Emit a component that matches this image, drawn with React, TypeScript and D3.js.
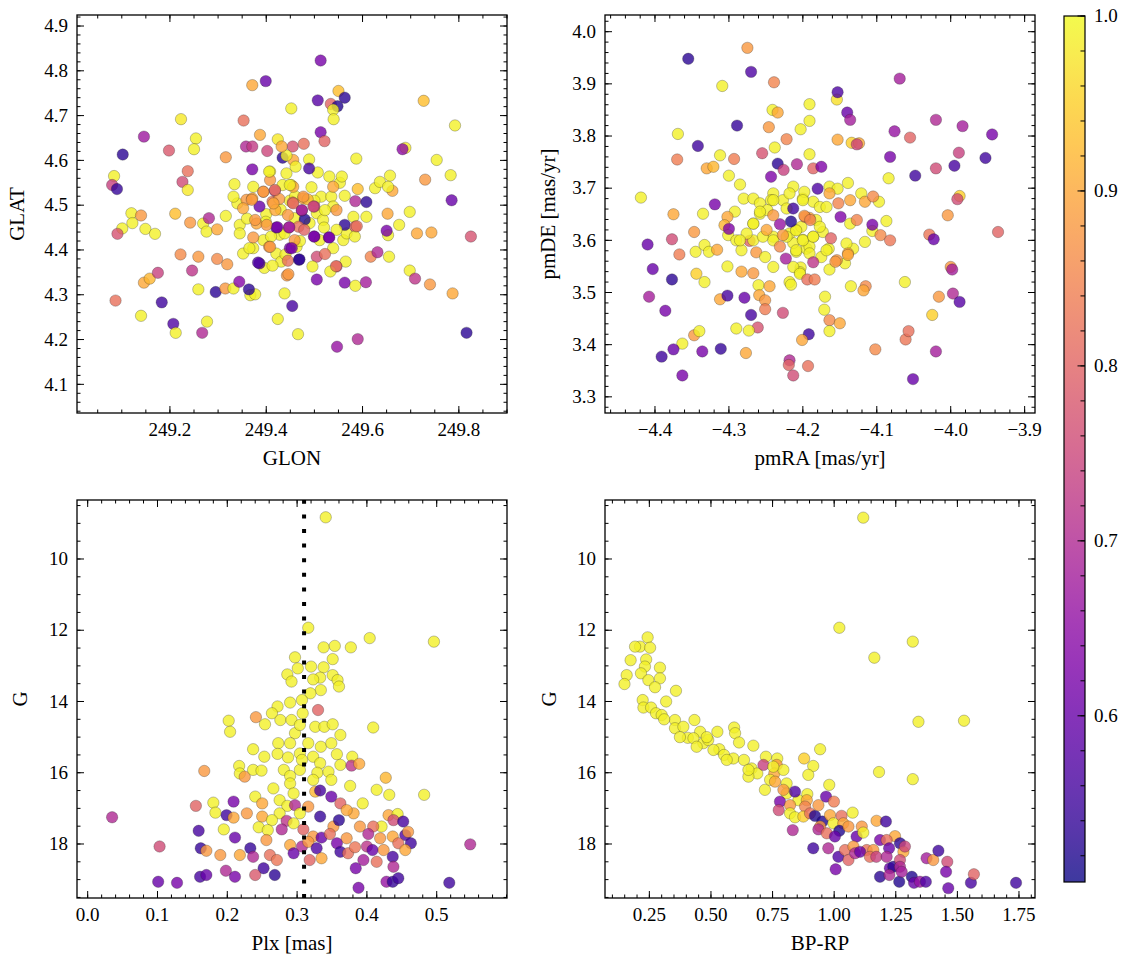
import React from 'react';
import * as d3 from 'd3';

const FONT = 'Liberation Serif';

// membership probability colour range
const P_MIN = 0.505;
const P_MAX = 1.0;
const cbarTicks = [0.6, 0.7, 0.8, 0.9, 1.0];

// [GLON, GLAT, prob]
const skyPts: [number, number, number][] = [
  [249.513,4.823,0.62],[249.399,4.777,0.60],[249.371,4.768,0.90],[249.550,4.755,0.93],[249.507,4.734,0.58],
  [249.563,4.740,0.53],[249.534,4.726,0.80],[249.548,4.721,0.52],[249.539,4.713,0.99],[249.452,4.716,0.99],
  [249.727,4.733,0.93],[249.540,4.692,0.99],[249.353,4.689,0.82],[249.223,4.692,0.98],[249.792,4.678,0.99],
  [249.146,4.653,0.67],[249.513,4.663,0.62],[249.521,4.643,0.80],[249.254,4.649,0.99],[249.387,4.657,0.90],
  [249.424,4.647,0.98],[249.102,4.613,0.53],[249.198,4.622,0.78],[249.250,4.625,0.99],[249.358,4.631,0.70],
  [249.371,4.631,0.73],[249.316,4.607,0.88],[249.402,4.621,0.75],[249.455,4.631,0.77],[249.478,4.637,0.82],
  [249.456,4.601,0.90],[249.489,4.602,0.99],[249.434,4.606,0.53],[249.587,4.604,0.99],[249.689,4.628,0.98],
  [249.683,4.625,0.65],[249.754,4.601,0.99],[249.084,4.565,0.99],[249.080,4.545,0.74],[249.090,4.536,0.54],
  [249.237,4.576,0.82],[249.226,4.552,0.76],[249.237,4.534,0.98],[249.408,4.575,0.99],[249.371,4.580,0.62],
  [249.507,4.573,0.99],[249.489,4.582,0.56],[249.657,4.566,0.99],[249.783,4.567,0.99],[249.730,4.557,0.88],
  [249.785,4.511,0.60],[249.626,4.538,0.99],[249.590,4.536,0.93],[249.662,4.532,0.90],[249.563,4.521,0.99],
  [249.585,4.509,0.70],[249.608,4.507,0.53],[249.120,4.482,0.99],[249.140,4.477,0.88],[249.122,4.460,0.99],
  [249.101,4.448,0.99],[249.091,4.436,0.77],[249.149,4.447,0.99],[249.169,4.436,0.99],[249.211,4.481,0.93],
  [249.242,4.461,0.88],[249.269,4.459,0.99],[249.276,4.441,0.99],[249.281,4.471,0.70],[249.298,4.446,0.90],
  [249.316,4.476,0.99],[249.334,4.547,0.99],[249.340,4.504,0.99],[249.345,4.456,0.99],[249.352,4.392,0.99],
  [249.345,4.437,0.99],[249.332,4.519,0.99],[249.373,4.541,0.99],[249.442,4.571,0.99],[249.461,4.586,0.99],
  [249.434,4.545,0.99],[249.452,4.545,0.99],[249.449,4.510,0.99],[249.494,4.540,0.99],[249.514,4.519,0.99],
  [249.531,4.564,0.99],[249.553,4.550,0.99],[249.557,4.564,0.99],[249.535,4.519,0.99],[249.539,4.497,0.99],
  [249.505,4.482,0.99],[249.518,4.467,0.99],[249.511,4.422,0.99],[249.539,4.404,0.99],[249.560,4.422,0.99],
  [249.567,4.437,0.99],[249.581,4.474,0.99],[249.636,4.552,0.99],[249.653,4.541,0.99],[249.394,4.422,0.99],
  [249.421,4.392,0.99],[249.463,4.407,0.99],[249.373,4.404,0.99],[249.396,4.360,0.99],[249.431,4.374,0.99],
  [249.428,4.434,0.99],[249.438,4.437,0.99],[249.459,4.471,0.99],[249.442,4.611,0.99],
  [249.430,4.490,0.99],[249.400,4.480,0.99],[249.460,4.520,0.99],[249.490,4.460,0.99],[249.520,4.450,0.99],
  [249.360,4.470,0.99],[249.410,4.430,0.99],[249.470,4.420,0.99],[249.500,4.510,0.99],[249.440,4.390,0.99],
  [249.359,4.512,0.88],[249.371,4.515,0.90],[249.394,4.530,0.88],[249.386,4.497,0.60],[249.413,4.508,0.83],
  [249.418,4.532,0.72],[249.427,4.514,0.88],[249.455,4.506,0.80],[249.477,4.515,0.90],[249.486,4.513,0.92],
  [249.500,4.497,0.74],[249.474,4.488,0.62],[249.480,4.468,0.52],[249.467,4.452,0.82],[249.445,4.478,0.88],
  [249.421,4.450,0.60],[249.447,4.450,0.68],[249.479,4.445,0.80],[249.419,4.489,0.90],[249.399,4.463,0.99],
  [249.380,4.459,0.90],[249.373,4.428,0.88],[249.365,4.404,0.99],[249.386,4.370,0.57],[249.406,4.407,0.88],
  [249.413,4.365,0.99],[249.449,4.404,0.62],[249.445,4.376,0.82],[249.468,4.378,0.55],[249.443,4.343,0.88],
  [249.438,4.303,0.99],[249.454,4.275,0.56],[249.424,4.246,0.99],[249.466,4.212,0.99],[249.500,4.430,0.62],
  [249.505,4.385,0.76],[249.496,4.363,0.99],[249.505,4.334,0.62],[249.522,4.391,0.82],[249.530,4.428,0.62],
  [249.546,4.489,0.88],[249.563,4.456,0.53],[249.546,4.445,0.99],[249.565,4.374,0.99],[249.546,4.363,0.77],
  [249.533,4.352,0.99],[249.563,4.327,0.62],[249.585,4.320,0.99],[249.607,4.328,0.68],[249.585,4.452,0.80],
  [249.584,4.430,0.99],[249.608,4.474,0.99],[249.617,4.385,0.85],[249.631,4.395,0.70],[249.653,4.433,0.99],
  [249.650,4.443,0.62],[249.652,4.481,0.90],[249.655,4.385,0.99],[249.676,4.456,0.99],[249.698,4.485,0.99],
  [249.713,4.437,0.90],[249.743,4.439,0.90],[249.698,4.354,0.99],[249.709,4.336,0.72],[249.740,4.323,0.88],
  [249.787,4.303,0.90],[249.825,4.430,0.77],[249.816,4.215,0.53],[249.590,4.201,0.70],[249.547,4.184,0.66],
  [249.087,4.287,0.82],[249.140,4.253,0.99],[249.146,4.327,0.90],[249.158,4.336,0.92],[249.175,4.349,0.74],
  [249.183,4.283,0.55],[249.207,4.235,0.57],[249.212,4.215,0.99],[249.222,4.390,0.86],[249.246,4.354,0.72],
  [249.259,4.385,0.88],[249.259,4.312,0.99],[249.267,4.215,0.70],[249.277,4.240,0.99],[249.298,4.380,0.86],
  [249.319,4.368,0.88],[249.295,4.306,0.53],[249.315,4.314,0.88],[249.332,4.314,0.99],[249.344,4.329,0.64],
  [249.367,4.299,0.99],[249.377,4.301,0.99],[249.364,4.312,0.53],[249.539,4.541,0.90],[249.408,4.556,0.88],
  [249.459,4.422,0.88],[249.456,4.541,0.90],[249.432,4.631,0.90],
  [249.406,4.575,0.99],[249.394,4.530,0.88],[249.418,4.534,0.82],[249.449,4.545,0.99],[249.477,4.519,0.88],
  [249.370,4.512,0.88],[249.352,4.493,0.90],[249.415,4.504,0.90],[249.456,4.504,0.82],[249.474,4.489,0.70],
  [249.498,4.497,0.75],[249.522,4.489,0.99],[249.377,4.467,0.88],[249.401,4.456,0.88],[249.423,4.451,0.62],
  [249.448,4.451,0.68],[249.499,4.430,0.62],[249.531,4.428,0.62],[249.588,4.453,0.82],[249.453,4.404,0.62],
  [249.408,4.407,0.88],[249.469,4.379,0.53],[249.545,4.364,0.82],[249.446,4.346,0.88],[249.383,4.372,0.57],
];

// [pmRA, pmDE, prob]
const pmPts: [number, number, number][] = [
  [-4.275,3.969,0.88],[-4.355,3.948,0.53],[-4.270,3.923,0.57],[-4.239,3.903,0.85],[-4.309,3.896,0.99],
  [-4.069,3.910,0.68],[-4.154,3.870,0.97],[-4.153,3.884,0.57],[-4.191,3.861,0.99],[-4.241,3.850,0.99],
  [-4.234,3.845,0.90],[-4.140,3.845,0.60],[-4.136,3.831,0.68],[-4.191,3.829,0.99],[-4.289,3.820,0.54],
  [-4.246,3.817,0.88],[-4.203,3.813,0.99],[-4.369,3.804,0.99],[-4.342,3.781,0.55],[-4.222,3.794,0.85],
  [-4.153,3.793,0.90],[-4.134,3.787,0.95],[-4.124,3.786,0.90],[-4.127,3.784,0.75],[-4.020,3.831,0.70],
  [-3.984,3.819,0.68],[-3.944,3.803,0.62],[-4.076,3.809,0.66],[-4.055,3.797,0.80],[-4.312,3.763,0.99],
  [-4.293,3.756,0.84],[-4.370,3.755,0.84],[-4.330,3.738,0.90],[-4.321,3.741,0.92],[-4.238,3.778,0.99],
  [-4.255,3.767,0.77],[-4.234,3.747,0.53],[-4.226,3.735,0.74],[-4.208,3.746,0.70],[-4.191,3.765,0.99],
  [-4.186,3.738,0.80],[-4.175,3.741,0.63],[-4.082,3.760,0.62],[-3.989,3.768,0.74],[-4.020,3.738,0.76],
  [-3.995,3.743,0.56],[-3.953,3.758,0.55],[-4.048,3.724,0.55],[-4.084,3.719,0.99],[-4.419,3.682,0.99],
  [-4.319,3.669,0.62],[-4.375,3.650,0.90],[-4.335,3.651,0.99],[-4.300,3.724,0.99],[-4.285,3.707,0.99],
  [-4.243,3.722,0.63],[-4.280,3.680,0.99],[-4.267,3.680,0.99],[-4.292,3.655,0.99],[-4.302,3.645,0.90],
  [-4.306,3.629,0.92],[-4.301,3.610,0.99],[-4.300,3.622,0.63],[-4.410,3.592,0.60],[-4.377,3.602,0.76],
  [-4.347,3.616,0.88],[-4.345,3.578,0.99],[-4.367,3.573,0.84],[-4.333,3.591,0.99],[-4.327,3.578,0.99],
  [-4.316,3.582,0.90],[-4.403,3.545,0.60],[-4.377,3.525,0.53],[-4.344,3.536,0.95],[-4.333,3.520,0.99],
  [-4.408,3.492,0.68],[-4.386,3.465,0.62],[-4.302,3.550,0.99],[-4.312,3.487,0.90],[-4.302,3.494,0.56],
  [-4.279,3.490,0.60],[-4.283,3.540,0.90],[-4.267,3.537,0.88],[-4.283,3.581,0.99],[-4.272,3.599,0.80],
  [-4.263,3.577,0.88],[-4.260,3.514,0.99],[-4.259,3.495,0.90],[-4.251,3.485,0.88],[-4.251,3.468,0.84],
  [-4.245,3.512,0.90],[-4.270,3.457,0.56],[-4.261,3.433,0.77],[-4.290,3.431,0.99],[-4.273,3.427,0.99],
  [-4.227,3.461,0.76],[-4.218,3.520,0.99],[-4.216,3.515,0.99],[-4.240,3.549,0.99],[-4.203,3.548,0.99],
  [-4.204,3.539,0.99],[-4.209,3.578,0.99],[-4.195,3.584,0.99],[-4.175,3.568,0.99],[-4.164,3.544,0.99],
  [-4.165,3.584,0.99],[-4.143,3.556,0.99],[-4.132,3.584,0.99],[-4.116,3.597,0.99],[-4.106,3.618,0.99],
  [-4.087,3.637,0.99],[-4.136,3.632,0.99],[-4.097,3.674,0.99],[-4.121,3.690,0.99],[-4.139,3.710,0.99],
  [-4.164,3.703,0.99],[-4.153,3.699,0.99],[-4.173,3.616,0.99],[-4.182,3.639,0.99],[-4.186,3.674,0.99],
  [-4.200,3.680,0.99],[-4.198,3.693,0.99],[-4.213,3.703,0.99],[-4.240,3.690,0.99],[-4.243,3.677,0.99],
  [-4.227,3.677,0.99],[-4.258,3.651,0.99],[-4.267,3.632,0.99],[-4.240,3.607,0.99],[-4.209,3.620,0.99],
  [-4.200,3.601,0.99],[-4.186,3.607,0.99],[-4.213,3.595,0.99],[-4.267,3.600,0.99],[-4.251,3.568,0.99],
  [-4.222,3.661,0.99],[-4.202,3.626,0.99],[-4.218,3.613,0.99],[-4.191,3.588,0.99],[-4.177,3.664,0.99],
  [-4.258,3.671,0.99],[-4.276,3.613,0.99],[-4.290,3.600,0.99],[-4.248,3.658,0.99],
  [-4.267,3.632,0.99],[-4.254,3.607,0.99],[-4.240,3.600,0.99],[-4.222,3.607,0.99],[-4.209,3.619,0.99],
  [-4.200,3.600,0.99],[-4.186,3.607,0.99],[-4.177,3.626,0.99],[-4.168,3.664,0.99],[-4.200,3.677,0.99],
  [-4.218,3.690,0.99],[-4.240,3.677,0.99],[-4.258,3.655,0.99],[-4.285,3.600,0.99],[-4.209,3.581,0.99],
  [-4.191,3.575,0.99],[-4.168,3.581,0.99],[-4.141,3.594,0.99],[-4.213,3.549,0.99],[-4.204,3.536,0.99],
  [-4.139,3.575,0.90],[-4.154,3.562,0.88],[-4.191,3.643,0.90],[-4.197,3.645,0.84],
  [-4.223,3.565,0.68],[-4.194,3.525,0.82],[-4.184,3.525,0.84],[-4.186,3.558,0.72],[-4.156,3.559,0.88],
  [-4.139,3.572,0.90],[-4.095,3.610,0.86],[-4.082,3.600,0.83],[-4.106,3.630,0.62],[-4.127,3.639,0.85],
  [-4.149,3.645,0.63],[-4.152,3.671,0.85],[-4.136,3.677,0.90],[-4.116,3.674,0.90],[-4.105,3.684,0.86],
  [-4.180,3.699,0.57],[-4.164,3.690,0.90],[-4.162,3.604,0.80],[-4.213,3.661,0.55],[-4.216,3.636,0.52],
  [-4.231,3.631,0.66],[-4.198,3.647,0.88],[-4.190,3.639,0.85],[-4.240,3.648,0.88],[-4.249,3.620,0.90],
  [-4.227,3.610,0.88],[-4.231,3.588,0.86],[-4.062,3.520,0.99],[-4.115,3.512,0.86],[-4.118,3.504,0.90],
  [-4.135,3.512,0.99],[-4.170,3.492,0.99],[-4.171,3.467,0.99],[-4.164,3.447,0.86],[-4.150,3.441,0.90],
  [-4.164,3.426,0.99],[-4.192,3.420,0.55],[-4.201,3.409,0.90],[-4.218,3.370,0.70],[-4.219,3.361,0.80],
  [-4.213,3.341,0.76],[-4.193,3.359,0.82],[-4.277,3.384,0.90],[-4.311,3.392,0.54],[-4.336,3.387,0.62],
  [-4.347,3.418,0.88],[-4.340,3.426,0.99],[-4.363,3.402,0.99],[-4.375,3.391,0.60],[-4.391,3.377,0.55],
  [-4.363,3.341,0.62],[-4.102,3.391,0.86],[-4.061,3.410,0.83],[-4.057,3.426,0.82],[-4.051,3.334,0.60],
  [-4.020,3.387,0.68],[-4.025,3.457,0.95],[-4.016,3.492,0.88],[-3.997,3.498,0.70],[-3.988,3.482,0.58],
  [-4.000,3.549,0.88],[-3.998,3.544,0.68],[-4.004,3.648,0.88],[-4.029,3.611,0.83],[-4.023,3.602,0.60],
  [-3.988,3.685,0.95],[-3.991,3.679,0.76],[-3.936,3.616,0.80],
];

// [Plx, G, prob]
const plxPts: [number, number, number][] = [
  [0.341,8.83,0.99],[0.316,11.93,0.99],[0.404,12.22,0.99],[0.496,12.32,0.99],[0.338,12.48,0.99],
  [0.354,12.44,0.99],[0.377,12.48,0.99],[0.297,12.76,0.99],[0.351,12.81,0.99],[0.320,13.02,0.99],
  [0.338,13.04,0.99],[0.301,13.07,0.99],[0.286,13.24,0.99],[0.351,13.26,0.99],[0.333,13.33,0.99],
  [0.358,13.40,0.99],[0.323,13.38,0.99],[0.292,13.44,0.99],[0.360,13.58,0.99],[0.334,13.68,0.99],
  [0.319,13.77,0.99],[0.307,13.96,0.99],[0.330,14.24,0.80],[0.290,14.03,0.99],[0.272,14.14,0.99],
  [0.264,14.33,0.99],[0.241,14.44,0.88],[0.202,14.54,0.99],[0.204,14.85,0.99],[0.254,14.64,0.99],
  [0.276,14.52,0.99],[0.292,14.52,0.99],[0.308,14.33,0.99],[0.326,14.71,0.99],[0.339,14.71,0.99],
  [0.351,14.64,0.99],[0.362,14.94,0.99],[0.409,14.73,0.99],[0.297,14.89,0.99],[0.304,14.66,0.99],
  [0.290,15.17,0.99],[0.273,15.17,0.99],[0.237,15.34,0.99],[0.253,15.55,0.99],[0.272,15.47,0.99],
  [0.287,15.57,0.99],[0.304,15.46,0.99],[0.323,15.55,0.99],[0.334,15.27,0.99],[0.349,15.17,0.99],
  [0.316,15.17,0.99],[0.357,15.48,0.99],[0.362,15.78,0.99],[0.379,15.55,0.99],[0.378,15.80,0.72],
  [0.389,15.75,0.90],[0.217,15.81,0.99],[0.218,16.02,0.99],[0.225,16.11,0.88],[0.167,15.95,0.88],
  [0.237,15.92,0.99],[0.249,15.94,0.99],[0.281,15.92,0.99],[0.290,16.09,0.99],[0.304,15.92,0.99],
  [0.307,15.64,0.99],[0.333,15.73,0.99],[0.329,16.00,0.99],[0.345,15.97,0.99],[0.349,16.20,0.99],
  [0.323,16.20,0.99],[0.427,16.14,0.92],[0.414,16.48,0.99],[0.482,16.62,0.99],[0.432,16.62,0.99],
  [0.376,16.37,0.99],[0.266,16.44,0.99],[0.290,16.30,0.99],[0.295,16.58,0.99],[0.326,16.53,0.92],
  [0.333,16.50,0.56],[0.349,16.67,0.60],[0.362,16.86,0.80],[0.394,16.86,0.99],[0.240,16.67,0.99],
  [0.250,16.86,0.90],[0.275,16.77,0.99],[0.286,16.93,0.99],[0.297,16.91,0.70],[0.316,16.95,0.88],
  [0.155,16.93,0.80],[0.180,16.84,0.99],[0.183,17.12,0.99],[0.304,17.14,0.99],[0.275,17.14,0.99],
  [0.209,16.81,0.62],[0.199,17.19,0.55],[0.209,17.26,0.90],[0.228,17.14,0.88],[0.250,17.23,0.90],
  [0.264,17.33,0.99],[0.285,17.35,0.72],[0.295,17.42,0.99],[0.333,17.23,0.54],[0.352,17.51,0.88],
  [0.360,17.33,0.53],[0.381,17.14,0.90],[0.371,17.05,0.90],[0.431,17.19,0.90],[0.444,17.16,0.99],
  [0.438,17.33,0.76],[0.452,17.37,0.56],[0.035,17.25,0.70],[0.159,17.63,0.56],[0.195,17.59,0.99],
  [0.211,17.82,0.60],[0.245,17.53,0.99],[0.258,17.61,0.99],[0.278,17.59,0.70],[0.309,17.59,0.80],
  [0.323,17.79,0.88],[0.335,17.82,0.60],[0.347,17.72,0.82],[0.371,17.84,0.88],[0.390,17.51,0.88],
  [0.421,17.51,0.99],[0.409,17.51,0.82],[0.402,17.72,0.70],[0.419,17.84,0.88],[0.437,17.79,0.90],
  [0.455,17.75,0.57],[0.459,17.66,0.88],[0.463,17.98,0.55],[0.445,17.98,0.82],[0.548,18.01,0.70],
  [0.103,18.07,0.76],[0.162,18.12,0.54],[0.170,18.19,0.88],[0.190,18.31,0.88],[0.218,18.31,0.90],
  [0.233,18.12,0.54],[0.237,18.36,0.70],[0.256,17.89,0.88],[0.261,18.31,0.82],[0.271,18.45,0.83],
  [0.290,18.03,0.90],[0.295,18.26,0.60],[0.307,18.07,0.70],[0.316,17.94,0.88],[0.318,18.45,0.80],
  [0.328,18.12,0.57],[0.335,18.40,0.90],[0.357,17.98,0.62],[0.362,18.22,0.55],[0.373,18.26,0.82],
  [0.383,18.09,0.83],[0.400,18.07,0.72],[0.408,18.17,0.60],[0.424,18.17,0.88],[0.455,18.17,0.90],
  [0.437,18.36,0.56],[0.414,18.50,0.82],[0.438,18.64,0.70],[0.395,18.45,0.68],[0.384,18.68,0.62],
  [0.198,18.75,0.70],[0.252,18.68,0.55],[0.240,18.87,0.78],[0.268,18.87,0.53],[0.161,18.92,0.56],
  [0.170,18.87,0.60],[0.211,18.92,0.62],[0.101,19.06,0.60],[0.128,19.09,0.62],[0.388,19.23,0.62],
  [0.428,19.06,0.66],[0.437,19.06,0.54],[0.445,18.96,0.55],[0.518,19.09,0.55],
];

// [BP-RP, G, prob]
const cmdPts: [number, number, number][] = [
  [1.118,8.84,0.99],[1.021,11.93,0.99],[1.319,12.32,0.99],[1.163,12.77,0.99],[1.342,14.57,0.99],
  [1.527,14.54,0.99],[1.182,15.98,0.99],[1.319,16.18,0.99],[0.243,12.20,0.99],[0.212,12.46,0.99],
  [0.192,12.46,0.99],[0.253,12.49,0.99],[0.237,12.82,0.99],[0.174,12.84,0.99],[0.232,13.02,0.99],
  [0.293,13.05,0.99],[0.158,13.26,0.99],[0.216,13.21,0.99],[0.246,13.40,0.99],[0.293,13.35,0.99],
  [0.149,13.51,0.99],[0.273,13.60,0.99],[0.358,13.70,0.99],[0.223,13.96,0.99],[0.318,14.00,0.99],
  [0.226,14.17,0.99],[0.257,14.17,0.99],[0.277,14.33,0.99],[0.300,14.38,0.99],[0.354,14.52,0.99],
  [0.310,14.50,0.99],[0.433,14.52,0.99],[0.354,14.75,0.99],[0.388,14.71,0.99],[0.456,14.85,0.99],
  [0.406,15.02,0.99],[0.429,15.03,0.99],[0.469,15.17,0.99],[0.489,15.08,0.99],[0.526,14.85,0.99],
  [0.594,14.73,0.99],[0.598,14.89,0.99],[0.614,15.15,0.99],[0.534,15.34,0.99],[0.553,15.50,0.99],
  [0.591,15.60,0.99],[0.634,15.64,0.99],[0.672,15.24,0.99],[0.723,15.55,0.99],[0.665,15.88,0.99],
  [0.688,16.02,0.99],[0.374,15.00,0.99],[0.483,15.00,0.99],[0.510,15.36,0.99],[0.442,15.27,0.99],
  [0.564,15.64,0.99],[0.652,16.11,0.99],[0.652,15.92,0.99],[0.713,15.78,0.74],[0.769,15.60,0.99],
  [0.767,15.78,0.88],[0.757,16.02,0.90],[0.794,15.92,0.99],[0.878,15.60,0.95],[0.915,15.81,0.99],
  [0.943,15.34,0.99],[0.895,16.06,0.99],[0.719,16.48,0.99],[0.740,16.20,0.99],[0.753,15.83,0.99],
  [0.760,16.25,0.90],[0.807,16.30,0.99],[0.807,16.58,0.99],[0.855,16.77,0.99],[0.794,16.48,0.88],
  [0.841,16.53,0.57],[0.891,16.60,0.99],[0.980,16.34,0.99],[0.967,16.67,0.60],[0.999,16.81,0.84],
  [0.889,16.77,0.90],[0.780,16.81,0.62],[0.775,17.05,0.76],[0.821,16.91,0.88],[0.882,16.95,0.85],
  [0.821,17.14,0.99],[0.841,17.25,0.99],[0.875,17.23,0.95],[0.902,17.14,0.82],[0.922,17.21,0.52],
  [0.936,16.91,0.88],[0.952,17.37,0.52],[0.983,17.19,0.90],[1.030,17.21,0.82],[1.075,17.12,0.99],
  [0.943,17.51,0.88],[0.997,17.42,0.99],[1.037,17.42,0.90],[1.112,17.51,0.88],[0.832,17.61,0.70],
  [0.936,17.59,0.70],[0.970,17.70,0.82],[1.021,17.63,0.52],[1.003,17.79,0.60],[1.058,17.51,0.88],
  [1.091,17.79,0.60],[1.118,17.68,0.99],[1.172,17.35,0.90],[1.210,17.37,0.55],[1.247,17.78,0.90],
  [1.186,17.89,0.62],[1.267,17.98,0.53],[1.213,17.89,0.82],[0.915,18.12,0.55],[0.976,18.12,0.70],
  [1.017,18.36,0.57],[1.044,18.17,0.82],[1.058,18.45,0.80],[1.078,18.07,0.88],[1.132,18.17,0.82],
  [1.085,18.26,0.70],[1.105,18.22,0.60],[1.159,18.17,0.88],[1.145,18.36,0.82],[1.223,18.12,0.60],
  [1.281,18.22,0.90],[1.287,18.07,0.75],[1.171,18.36,0.74],[1.213,18.36,0.70],[1.006,18.71,0.62],
  [1.226,18.68,0.60],[1.240,18.64,0.53],[1.267,18.45,0.76],[1.267,18.64,0.70],[1.375,18.40,0.68],
  [1.402,18.45,0.88],[1.423,18.19,0.55],[1.459,18.50,0.76],[1.454,18.78,0.62],[1.463,19.24,0.60],
  [1.186,18.92,0.53],[1.224,18.87,0.70],[1.264,19.06,0.52],[1.315,18.92,0.52],[1.324,19.09,0.60],
  [1.348,19.06,0.66],[1.372,19.06,0.57],[1.555,19.09,0.56],[1.567,18.85,0.80],[1.738,19.09,0.55],
  [1.274,18.78,0.68],
];

const color = (p: number) => d3.interpolatePlasma((p - P_MIN) / (P_MAX - P_MIN));

const fmtMinus = (s: string) => s.replace('-', '\u2212');

type PanelProps = {
  id: string;
  box: [number, number, number, number];
  xDomain: [number, number];
  yDomain: [number, number];
  xMajor: number[];
  xMinorStep: number;
  yMajor: number[];
  yMinorStep: number;
  xFmt: (v: number) => string;
  yFmt: (v: number) => string;
  xLabel: string;
  yLabel: string;
  yLabelOff: number;
  points: [number, number, number][];
  vline?: number;
};

function minorTicks(domain: [number, number], step: number) {
  const lo = Math.min(domain[0], domain[1]);
  const hi = Math.max(domain[0], domain[1]);
  const start = Math.ceil(lo / step - 1e-9);
  const end = Math.floor(hi / step + 1e-9);
  return d3.range(start, end + 1).map((k) => k * step);
}

const tickText = { fontSize: '19px', fontFamily: FONT, fill: '#000' } as const;
const labelText = { fontSize: '21px', fontFamily: FONT, fill: '#000' } as const;

function Panel(props: PanelProps) {
  const { id, box, xDomain, yDomain, xMajor, xMinorStep, yMajor, yMinorStep, xFmt, yFmt, xLabel, yLabel, yLabelOff, points, vline } = props;
  const [l, r, t, b] = box;
  const x = d3.scaleLinear().domain(xDomain).range([l, r]);
  const y = d3.scaleLinear().domain(yDomain).range([b, t]);
  const MAJ = 7;
  const MIN = 3.5;
  const xMin = minorTicks(xDomain, xMinorStep);
  const yMin = minorTicks(yDomain, yMinorStep);
  const tickStyle = { stroke: '#000', strokeWidth: 1 };
  return (
    <g>
      <defs>
        <clipPath id={`clip-${id}`}>
          <rect x={l} y={t} width={r - l} height={b - t} />
        </clipPath>
      </defs>
      <g clipPath={`url(#clip-${id})`}>
        {points.map((d, i) => (
          <circle
            key={i}
            cx={x(d[0])}
            cy={y(d[1])}
            r={5.7}
            fill={color(d[2])}
            fillOpacity={0.8}
            stroke="#222"
            strokeOpacity={0.55}
            strokeWidth={0.5}
          />
        ))}
        {vline !== undefined && (
          <line
            x1={x(vline)}
            x2={x(vline)}
            y1={b}
            y2={t}
            stroke="#000"
            strokeWidth={4}
            strokeDasharray="4 10.6"
          />
        )}
      </g>
      {xMin.map((v, i) => (
        <g key={`xm${i}`}>
          <line x1={x(v)} x2={x(v)} y1={b} y2={b - MIN} {...tickStyle} />
          <line x1={x(v)} x2={x(v)} y1={t} y2={t + MIN} {...tickStyle} />
        </g>
      ))}
      {yMin.map((v, i) => (
        <g key={`ym${i}`}>
          <line x1={l} x2={l + MIN} y1={y(v)} y2={y(v)} {...tickStyle} />
          <line x1={r} x2={r - MIN} y1={y(v)} y2={y(v)} {...tickStyle} />
        </g>
      ))}
      {xMajor.map((v, i) => (
        <g key={`xM${i}`}>
          <line x1={x(v)} x2={x(v)} y1={b} y2={b - MAJ} {...tickStyle} />
          <line x1={x(v)} x2={x(v)} y1={t} y2={t + MAJ} {...tickStyle} />
          <text x={x(v)} y={b + 23} textAnchor="middle" style={tickText}>
            {xFmt(v)}
          </text>
        </g>
      ))}
      {yMajor.map((v, i) => (
        <g key={`yM${i}`}>
          <line x1={l} x2={l + MAJ} y1={y(v)} y2={y(v)} {...tickStyle} />
          <line x1={r} x2={r - MAJ} y1={y(v)} y2={y(v)} {...tickStyle} />
          <text x={l - 9} y={y(v) + 6.2} textAnchor="end" style={tickText}>
            {yFmt(v)}
          </text>
        </g>
      ))}
      <rect x={l} y={t} width={r - l} height={b - t} fill="none" stroke="#000" strokeWidth={1.3} />
      <text x={(l + r) / 2} y={b + 52} textAnchor="middle" style={labelText}>
        {xLabel}
      </text>
      <text
        transform={`translate(${l - yLabelOff},${(t + b) / 2}) rotate(-90)`}
        textAnchor="middle"
        style={labelText}
      >
        {yLabel}
      </text>
    </g>
  );
}

function Colorbar() {
  const cx = 1064, cw = 21, top = 16, bot = 882;
  const s = d3.scaleLinear().domain([P_MIN, P_MAX]).range([bot, top]);
  const stops = d3.range(0, 21).map((k) => k / 20);
  const minors = minorTicks([P_MIN, P_MAX], 0.02);
  return (
    <g>
      <defs>
        <linearGradient id="cbar-grad" x1="0" x2="0" y1="1" y2="0">
          {stops.map((f, i) => (
            <stop key={i} offset={f} stopColor={d3.interpolatePlasma(f)} stopOpacity={0.8} />
          ))}
        </linearGradient>
      </defs>
      <rect x={cx} y={top} width={cw} height={bot - top} fill="url(#cbar-grad)" />
      {minors.map((v, i) => (
        <line key={`m${i}`} x1={cx + cw} x2={cx + cw - 4.5} y1={s(v)} y2={s(v)} stroke="#000" strokeWidth={1} />
      ))}
      {cbarTicks.map((v, i) => (
        <g key={`M${i}`}>
          <line x1={cx + cw} x2={cx + cw - 7.5} y1={s(v)} y2={s(v)} stroke="#000" strokeWidth={1} />
          <text x={cx + cw + 9} y={s(v) + 6.2} style={tickText}>
            {v.toFixed(1)}
          </text>
        </g>
      ))}
      <rect x={cx} y={top} width={cw} height={bot - top} fill="none" stroke="#000" strokeWidth={1.2} />
    </g>
  );
}

export default function App() {
  return (
    <svg
      width={1133}
      height={965}
      viewBox="0 0 1133 965"
      style={{ position: 'absolute', left: 0, top: 0, background: '#fff', display: 'block' }}
    >
      <rect x={0} y={0} width={1133} height={965} fill="#fff" />
      <Panel
        id="sky"
        box={[77, 507, 15, 413]}
        xDomain={[249.007, 249.9]}
        yDomain={[4.036, 4.9246]}
        xMajor={[249.2, 249.4, 249.6, 249.8]}
        xMinorStep={0.05}
        yMajor={[4.1, 4.2, 4.3, 4.4, 4.5, 4.6, 4.7, 4.8, 4.9]}
        yMinorStep={0.02}
        xFmt={(v) => v.toFixed(1)}
        yFmt={(v) => v.toFixed(1)}
        xLabel="GLON"
        yLabel="GLAT"
        yLabelOff={53}
        points={skyPts}
      />
      <Panel
        id="pm"
        box={[605, 1035, 15, 413]}
        xDomain={[-4.4676, -3.886]}
        yDomain={[3.269, 4.032]}
        xMajor={[-4.4, -4.3, -4.2, -4.1, -4.0, -3.9]}
        xMinorStep={0.02}
        yMajor={[3.3, 3.4, 3.5, 3.6, 3.7, 3.8, 3.9, 4.0]}
        yMinorStep={0.02}
        xFmt={(v) => fmtMinus(v.toFixed(1))}
        yFmt={(v) => v.toFixed(1)}
        xLabel="pmRA [mas/yr]"
        yLabel="pmDE [mas/yr]"
        yLabelOff={50}
        points={pmPts}
      />
      <Panel
        id="plx"
        box={[77, 507, 500, 898]}
        xDomain={[-0.0153, 0.6007]}
        yDomain={[19.516, 8.344]}
        xMajor={[0, 0.1, 0.2, 0.3, 0.4, 0.5]}
        xMinorStep={0.02}
        yMajor={[10, 12, 14, 16, 18]}
        yMinorStep={0.5}
        xFmt={(v) => v.toFixed(1)}
        yFmt={(v) => v.toFixed(0)}
        xLabel="Plx [mas]"
        yLabel="G"
        yLabelOff={50}
        points={plxPts}
        vline={0.31}
      />
      <Panel
        id="cmd"
        box={[605, 1035, 500, 898]}
        xDomain={[0.07, 1.815]}
        yDomain={[19.516, 8.344]}
        xMajor={[0.25, 0.5, 0.75, 1.0, 1.25, 1.5, 1.75]}
        xMinorStep={0.05}
        yMajor={[10, 12, 14, 16, 18]}
        yMinorStep={0.5}
        xFmt={(v) => v.toFixed(2)}
        yFmt={(v) => v.toFixed(0)}
        xLabel="BP-RP"
        yLabel="G"
        yLabelOff={49}
        points={cmdPts}
      />
      <Colorbar />
    </svg>
  );
}
